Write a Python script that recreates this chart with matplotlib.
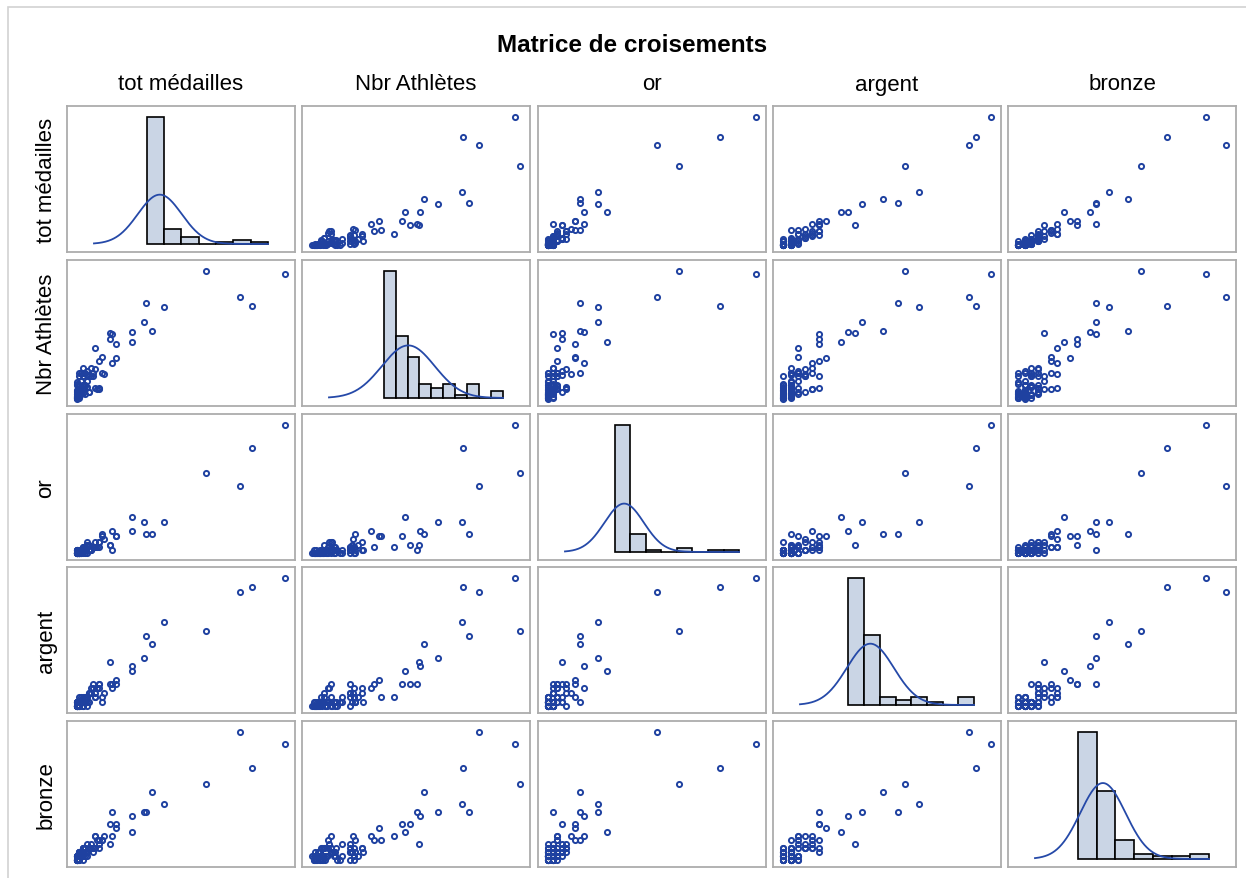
import numpy as np
import matplotlib
matplotlib.use("Agg")
import matplotlib.pyplot as plt
from matplotlib.patches import Rectangle

# ---- Data: London 2012 medal-winning countries ----
countries = ["USA", "Chine", "Grande-Bretagne", "Russie", "Corée du Sud", "Allemagne", "France", "Italie",
             "Hongrie", "Australie", "Japon", "Kazakhstan", "Pays-Bas", "Ukraine", "Nouvelle-Zélande", "Cuba",
             "Iran", "Jamaïque", "Tchéquie", "Corée du Nord", "Espagne", "Brésil", "Afrique du Sud", "Éthiopie",
             "Croatie", "Biélorussie", "Roumanie", "Kenya", "Danemark", "Azerbaïdjan", "Pologne", "Turquie",
             "Suisse", "Lituanie", "Norvège", "Canada", "Suède", "Colombie", "Géorgie", "Mexique", "Irlande",
             "Argentine", "Serbie", "Slovénie", "Tunisie", "Rép. dominicaine", "Trinité-et-Tobago", "Ouzbékistan",
             "Lettonie", "Algérie", "Bahamas", "Grenade", "Ouganda", "Venezuela", "Inde", "Mongolie", "Thaïlande",
             "Égypte", "Slovaquie", "Arménie", "Belgique", "Finlande", "Bulgarie", "Estonie", "Indonésie",
             "Malaisie", "Porto Rico", "Taïwan", "Botswana", "Chypre", "Gabon", "Guatemala", "Monténégro",
             "Portugal", "Grèce", "Moldavie", "Qatar", "Singapour", "Afghanistan", "Bahreïn", "Hong Kong",
             "Arabie saoudite", "Koweït", "Maroc", "Tadjikistan"]

gold = [46, 38, 29, 24, 13, 11, 11, 8, 8, 7, 7, 7, 6, 6, 6, 5, 4, 4, 4, 4, 3, 3, 3, 3, 3, 2, 2, 2, 2, 2, 2, 2,
        2, 2, 2, 1, 1, 1, 1, 1, 1, 1, 1, 1, 1, 1, 1, 1, 1, 1, 1, 1, 1, 1, 0, 0, 0, 0, 0, 0, 0, 0, 0, 0, 0,
        0, 0, 0, 0, 0, 0, 0, 0, 0, 0, 0, 0, 0, 0, 0, 0, 0, 0, 0, 0]
silver = [29, 27, 17, 26, 8, 19, 11, 9, 4, 16, 14, 1, 6, 5, 2, 3, 5, 4, 3, 0, 10, 5, 2, 1, 1, 5, 5, 4, 4, 2, 2, 2,
          2, 1, 1, 5, 4, 3, 3, 3, 1, 1, 1, 1, 1, 1, 0, 0, 0, 0, 0, 0, 0, 0, 2, 2, 2, 2, 1, 1, 1, 1, 1, 1, 1,
          1, 1, 1, 1, 1, 1, 1, 1, 1, 0, 0, 0, 0, 0, 0, 0, 0, 0, 0, 0]
bronze = [29, 23, 19, 32, 7, 14, 12, 11, 6, 12, 17, 5, 8, 9, 5, 6, 3, 4, 3, 2, 4, 9, 1, 3, 2, 5, 2, 5, 3, 6, 6, 1,
          0, 2, 1, 12, 3, 4, 3, 3, 3, 2, 2, 2, 1, 0, 3, 3, 1, 0, 0, 0, 0, 0, 4, 3, 1, 0, 3, 2, 2, 2, 1, 1, 1,
          1, 1, 1, 0, 0, 0, 0, 0, 0, 2, 2, 2, 2, 1, 1, 1, 1, 1, 1, 1]
total = [104, 88, 65, 82, 28, 44, 34, 28, 18, 35, 38, 13, 20, 20, 13, 14, 12, 12, 10, 6, 17, 17, 6, 7, 6, 12, 9,
         11, 9, 10, 10, 5, 4, 5, 4, 18, 8, 8, 7, 7, 5, 4, 4, 4, 3, 2, 4, 4, 2, 1, 1, 1, 1, 1, 6, 5, 3, 2, 4, 3,
         3, 3, 2, 2, 2, 2, 2, 2, 1, 1, 1, 1, 1, 1, 2, 2, 2, 2, 1, 1, 1, 1, 1, 1, 1]
athletes = [530, 396, 541, 436, 245, 392, 330, 285, 157, 410, 293, 115, 178, 237, 184, 110, 53, 50, 133, 56, 282,
            258, 125, 35, 108, 165, 103, 47, 113, 53, 218, 114, 102, 62, 64, 277, 134, 104, 35, 102, 66, 137, 115,
            65, 83, 32, 30, 54, 45, 39, 25, 10, 15, 69, 83, 29, 37, 113, 47, 25, 115, 55, 63, 33, 22, 30, 25, 44,
            9, 13, 26, 19, 34, 77, 103, 21, 12, 23, 6, 12, 42, 19, 11, 65, 16]

labels = ["tot médailles", "Nbr Athlètes", "or", "argent", "bronze"]
variables = [total, athletes, gold, silver, bronze]
# histogram binning (start, width) per variable
bin_specs = [(0, 15), (0, 55), (0, 6), (-2, 4), (-2.5, 5)]

# ---- Style ----
FONT = "Liberation Sans"
W, H = 1246, 879
marker_col = "#1f41a0"
curve_col = "#2549a8"
hist_face = "#cad5e5"
frame_col = "#acacac"

fig = plt.figure(figsize=(W / 100, H / 100), dpi=100)
fig.patch.set_facecolor("white")

# outer light frame
fig.patches.append(Rectangle((8 / W, -0.1), 1.2, 1 - 8 / H + 0.1, transform=fig.transFigure,
                             fill=False, edgecolor="#d2d2d2", linewidth=1.2))

col_left = [67, 302, 538, 773, 1008]
row_top = [107, 261, 415, 568, 722]
pw, ph = 228, 146

def px_axes(x, y, w, h):
    return fig.add_axes([x / W, 1 - (y + h) / H, w / W, h / H])

n = len(variables)
for i in range(n):
    for j in range(n):
        ax = px_axes(col_left[j], row_top[i], pw, ph)
        ax.set_xticks([])
        ax.set_yticks([])
        for s in ax.spines.values():
            s.set_edgecolor(frame_col)
            s.set_linewidth(1.3)
        if i == j:
            v = np.asarray(variables[i], dtype=float)
            start, width = bin_specs[i]
            nb = int(np.ceil((v.max() - start) / width + 1e-9))
            if start + nb * width <= v.max():
                nb += 1
            edges = start + width * np.arange(nb + 1)
            counts, _ = np.histogram(v, bins=edges)
            pct = counts / len(v) * 100
            ax.bar(edges[:-1], pct, width=width, align="edge", color=hist_face,
                   edgecolor="black", linewidth=1.2, zorder=2)
            mu, sd = v.mean(), v.std(ddof=1)
            lo = mu - 3 * sd
            hi = max(edges[-1], mu + 3 * sd)
            xs = np.linspace(lo, hi, 300)
            ys = 100 * width * np.exp(-0.5 * ((xs - mu) / sd) ** 2) / (sd * np.sqrt(2 * np.pi))
            ax.plot(xs, ys, color=curve_col, linewidth=1.3, zorder=3)
            span = hi - lo
            ax.set_xlim(lo - 0.155 * span, hi + 0.155 * span)
            M = pct.max()
            R = M / 0.87
            ax.set_ylim(-0.055 * R, M + 0.075 * R)
        else:
            x = np.asarray(variables[j], dtype=float)
            y = np.asarray(variables[i], dtype=float)
            ax.plot(x, y, linestyle="none", marker="o", markersize=3.7, markerfacecolor="none",
                    markeredgecolor=marker_col, markeredgewidth=1.4)
            xr = x.max() - x.min()
            yr = y.max() - y.min()
            ax.set_xlim(x.min() - 0.05 * xr, x.max() + 0.05 * xr)
            ax.set_ylim(y.min() - 0.055 * yr, y.max() + 0.09 * yr)

# title and labels
fig.text(632 / W, 1 - 45 / H, "Matrice de croisements", ha="center", va="center",
         fontsize=17.5, fontweight="bold", family=FONT)
for j, lab in enumerate(labels):
    fig.text((col_left[j] + pw / 2) / W, 1 - 85 / H, lab, ha="center", va="center",
             fontsize=16, family=FONT)
for i, lab in enumerate(labels):
    fig.text(46 / W, 1 - (row_top[i] + ph / 2) / H, lab, ha="center", va="center",
             rotation=90, fontsize=16, family=FONT)

fig.savefig("out.png", dpi=100, facecolor="white")
